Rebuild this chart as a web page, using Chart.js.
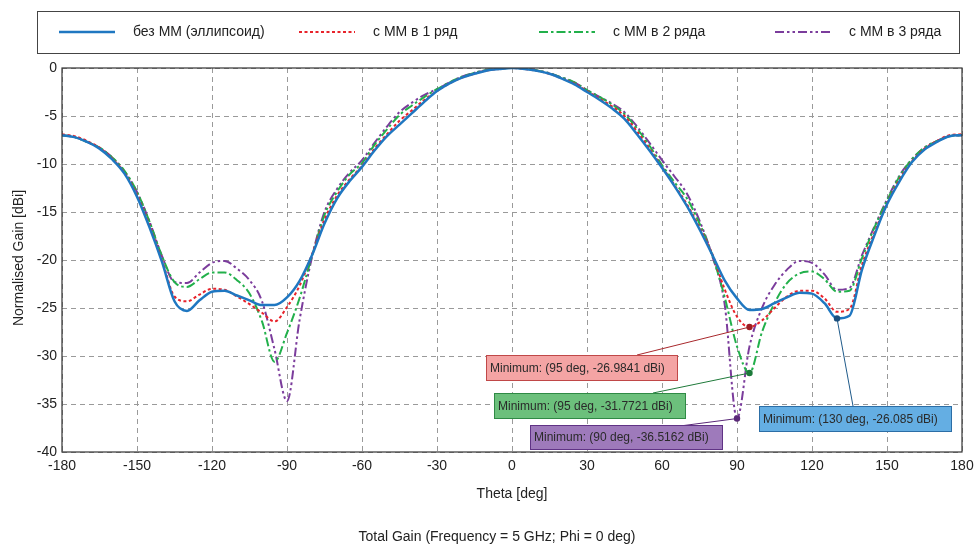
<!DOCTYPE html>
<html>
<head>
<meta charset="utf-8">
<script src="https://cdn.jsdelivr.net/npm/chart.js@4/dist/chart.umd.min.js"></script>
<style>
  html, body { margin: 0; padding: 0; background: #fff; }
  #wrap { width: 974px; height: 548px; position: relative; }
</style>
</head>
<body>
<div id="wrap"><canvas id="gain" width="974" height="548"></canvas></div>
<script>
// углы, шаг 5 градусов
const theta = [];
for (let t = -180; t <= 180; t += 5) theta.push(t);

const seriesNames = ['без ММ (эллипсоид)', 'с ММ в 1 ряд', 'с ММ в 2 ряда', 'с ММ в 3 ряда'];

const gainNoMM = [
  -7.0, -7.2, -7.7, -8.4, -9.5, -11.0, -13.4, -16.6, -20.2, -24.3,
  -25.3, -24.2, -23.3, -23.2, -23.7, -24.2, -24.7, -24.7, -23.9, -22.2,
  -19.5, -16.2, -13.6, -11.8, -10.3, -8.6, -7.1, -5.9, -4.7, -3.5,
  -2.4, -1.6, -1.0, -0.6, -0.25, -0.1, 0.0, -0.1, -0.3, -0.6,
  -1.1, -1.7, -2.5, -3.3, -4.2, -5.3, -6.9, -8.6, -10.4, -12.3,
  -14.4, -16.8, -19.4, -22.1, -24.0, -25.2, -25.1, -24.5, -23.9, -23.4,
  -23.5, -24.5, -26.085, -25.8, -21.0, -17.4, -14.2, -11.8, -9.8, -8.5,
  -7.7, -7.1, -7.0
];
const gainMM1 = [
  -6.9, -7.1, -7.6, -8.3, -9.4, -10.9, -13.2, -16.4, -20.0, -23.8,
  -24.3, -23.6, -23.0, -23.1, -23.8, -24.6, -25.5, -26.4, -24.9, -22.7,
  -19.4, -15.8, -13.3, -11.6, -10.2, -8.4, -6.9, -5.5, -4.4, -3.3,
  -2.4, -1.6, -1.0, -0.6, -0.25, -0.1, 0.0, -0.1, -0.3, -0.6,
  -1.1, -1.6, -2.4, -3.2, -4.0, -5.0, -6.6, -8.4, -10.3, -12.2,
  -14.2, -16.6, -19.3, -23.0, -25.9, -26.9841, -26.3, -25.0, -23.8, -23.2,
  -23.2, -24.0, -25.4, -25.1, -20.5, -17.1, -14.1, -11.6, -9.7, -8.4,
  -7.6, -7.0, -6.9
];
const gainMM2 = [
  -7.0, -7.2, -7.7, -8.3, -9.3, -10.7, -12.9, -16.0, -19.6, -22.3,
  -22.8, -22.0, -21.3, -21.3, -22.1, -23.5, -26.4, -30.6, -27.6, -24.0,
  -19.6, -15.3, -12.9, -11.1, -9.9, -8.0, -6.4, -4.9, -3.9, -3.0,
  -2.2, -1.5, -0.9, -0.5, -0.2, -0.05, 0.0, -0.05, -0.25, -0.55,
  -1.0, -1.5, -2.3, -3.0, -3.8, -4.8, -6.3, -8.1, -10.1, -11.9,
  -13.6, -16.2, -19.4, -23.8, -29.0, -31.7721, -27.5, -24.5, -22.4, -21.4,
  -21.2, -22.0, -23.3, -23.2, -19.8, -16.6, -13.8, -11.3, -9.5, -8.3,
  -7.6, -7.1, -7.0
];
const gainMM3 = [
  -7.0, -7.2, -7.7, -8.3, -9.3, -10.8, -12.9, -16.0, -19.6, -22.3,
  -22.4, -21.3, -20.3, -20.1, -20.9, -22.1, -24.3, -29.3, -34.7, -26.3,
  -19.7, -15.0, -12.6, -10.9, -9.6, -7.8, -6.1, -4.6, -3.6, -2.8,
  -2.2, -1.5, -0.9, -0.5, -0.2, -0.05, 0.0, -0.05, -0.25, -0.55,
  -1.0, -1.5, -2.3, -3.0, -3.7, -4.6, -6.1, -7.8, -9.6, -11.3,
  -13.1, -15.9, -19.5, -24.5, -36.5162, -29.0, -25.0, -22.6, -21.0, -20.1,
  -20.3, -21.5, -23.1, -22.9, -19.5, -16.5, -13.7, -11.2, -9.5, -8.3,
  -7.6, -7.1, -7.0
];

const xTicks = [-180, -150, -120, -90, -60, -30, 0, 30, 60, 90, 120, 150, 180];
const yTicks = [0, -5, -10, -15, -20, -25, -30, -35, -40];

// минимумы, отмеченные на графике
const minSeries = [1, 2, 3, 0];
const minTheta = [95, 95, 90, 130];
const minLabels = [
  'Minimum: (95 deg, -26.9841 dBi)',
  'Minimum: (95 deg, -31.7721 dBi)',
  'Minimum: (90 deg, -36.5162 dBi)',
  'Minimum: (130 deg, -26.085 dBi)'
];

const colors = ['#1f77c1', '#e8232b', '#22b04b', '#7b3c9c'];
const markerColors = ['#1a4f7e', '#9e1d22', '#1c7a3a', '#5a2878'];
const dashes = [[], [3, 2.5], [9, 3, 2.5, 3], [9, 3, 2.5, 3, 2.5, 3]];
const widths = [2.5, 2, 2, 2];

const FONT = "'Liberation Sans', Arial, sans-serif";

function xy(vals) {
  return theta.map((t, i) => ({ x: t, y: vals[i] }));
}

const allGain = [gainNoMM, gainMM1, gainMM2, gainMM3];
const datasets = allGain.map((vals, i) => ({
  label: seriesNames[i],
  data: xy(vals),
  borderColor: colors[i],
  backgroundColor: markerColors[i],
  borderWidth: widths[i],
  borderDash: dashes[i],
  pointRadius: 0,
  pointHoverRadius: 0,
  cubicInterpolationMode: 'monotone',
  fill: false
}));

// подписи минимумов: прямоугольник и линия к точке
const boxes = [
  { x: 486, y: 355, w: 191, h: 25, fill: '#f4a4a4', stroke: '#c04848', line: '#a8282c', ax: 637, ay: 355 },
  { x: 494, y: 393, w: 191, h: 25, fill: '#6cc07c', stroke: '#2f8a45', line: '#1f7a3a', ax: 653, ay: 393 },
  { x: 530, y: 425, w: 192, h: 24, fill: '#9e7abb', stroke: '#603385', line: '#5a2878', ax: 680, ay: 426 },
  { x: 759, y: 406, w: 192, h: 25, fill: '#64aee3', stroke: '#2c6ea6', line: '#1f5a8a', ax: 853, ay: 406 }
];

const decorPlugin = {
  id: 'decor',
  afterDatasetsDraw(chart) {
    const { ctx, chartArea: a, scales } = chart;
    ctx.save();
    // рамка
    ctx.strokeStyle = '#333';
    ctx.lineWidth = 1.2;
    ctx.setLineDash([]);
    ctx.strokeRect(a.left, a.top, a.right - a.left, a.bottom - a.top);

    // аннотации
    ctx.font = '12px ' + FONT;
    ctx.textBaseline = 'middle';
    boxes.forEach((b, k) => {
      const px = scales.x.getPixelForValue(minTheta[k]);
      const vals = allGain[minSeries[k]];
      const py = scales.y.getPixelForValue(vals[theta.indexOf(minTheta[k])]);
      ctx.strokeStyle = b.line;
      ctx.lineWidth = 1;
      ctx.beginPath();
      ctx.moveTo(b.ax, b.ay);
      ctx.lineTo(px, py);
      ctx.stroke();
      ctx.fillStyle = b.fill;
      ctx.fillRect(b.x, b.y, b.w, b.h);
      ctx.strokeStyle = b.stroke;
      ctx.strokeRect(b.x + 0.5, b.y + 0.5, b.w, b.h);
      ctx.fillStyle = '#2a2a2a';
      ctx.textAlign = 'left';
      ctx.fillText(minLabels[k], b.x + 4, b.y + b.h / 2 + 1);
      ctx.fillStyle = markerColors[minSeries[k]];
      ctx.beginPath();
      ctx.arc(px, py, 3.2, 0, Math.PI * 2);
      ctx.fill();
    });

    // легенда
    ctx.strokeStyle = '#444';
    ctx.lineWidth = 1;
    ctx.strokeRect(37.5, 11.5, 922, 42);
    const legX = [59, 299, 539, 775];
    ctx.font = '14px ' + FONT;
    ctx.textAlign = 'left';
    seriesNames.forEach((name, i) => {
      ctx.strokeStyle = colors[i];
      ctx.lineWidth = widths[i];
      ctx.setLineDash(dashes[i]);
      ctx.beginPath();
      ctx.moveTo(legX[i], 32);
      ctx.lineTo(legX[i] + 56, 32);
      ctx.stroke();
      ctx.setLineDash([]);
      ctx.fillStyle = '#222';
      ctx.fillText(name, legX[i] + 74, 32);
    });

    // подписи осей
    ctx.fillStyle = '#222';
    ctx.font = '14px ' + FONT;
    ctx.textAlign = 'center';
    ctx.fillText('Theta [deg]', (a.left + a.right) / 2, 494);
    ctx.fillText('Total Gain (Frequency = 5 GHz; Phi = 0 deg)', 497, 537);
    ctx.translate(19, 258);
    ctx.rotate(-Math.PI / 2);
    ctx.fillText('Normalised Gain [dBi]', 0, 0);
    ctx.restore();
  }
};

new Chart(document.getElementById('gain'), {
  type: 'line',
  data: { datasets },
  plugins: [decorPlugin],
  options: {
    responsive: false,
    animation: false,
    maintainAspectRatio: false,
    layout: { padding: { top: 68, right: 12, left: 0, bottom: 0 } },
    plugins: { legend: { display: false }, tooltip: { enabled: false } },
    scales: {
      x: {
        type: 'linear',
        min: -180, max: 180,
        afterBuildTicks: s => { s.ticks = xTicks.map(v => ({ value: v })); },
        afterFit: s => { s.height = 96; s.paddingLeft = 0; s.paddingRight = 0; },
        grid: { color: '#9a9a9a', lineWidth: 1, drawTicks: false },
        border: { display: false, dash: [5, 4] },
        ticks: { padding: 6, color: '#222', font: { family: FONT, size: 14 }, maxRotation: 0 }
      },
      y: {
        type: 'linear',
        min: -40, max: 0,
        afterBuildTicks: s => { s.ticks = yTicks.map(v => ({ value: v })); },
        afterFit: s => { s.width = 62; s.paddingTop = 0; s.paddingBottom = 0; },
        grid: { color: '#9a9a9a', lineWidth: 1, drawTicks: false },
        border: { display: false, dash: [5, 4] },
        ticks: { padding: 5, color: '#222', font: { family: FONT, size: 14 } }
      }
    }
  }
});
</script>
</body>
</html>
